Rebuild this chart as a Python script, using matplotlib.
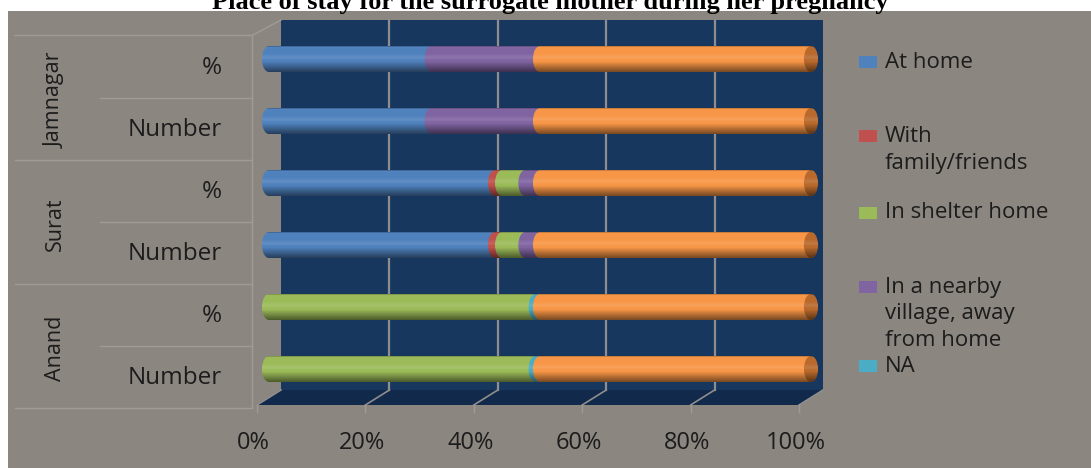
import numpy as np
import matplotlib.pyplot as plt
from matplotlib.patches import Rectangle, Polygon, Ellipse, PathPatch
from matplotlib.path import Path

# data (share of each place of stay, stacked to 100 with the total series)
groups = ["Jamnagar", "Surat", "Anand"]
measures = ["%", "Number"]
at_home = [30, 30, 41.7, 41.7, 0, 0]
family = [0, 0, 1.3, 1.3, 0, 0]
shelter = [0, 0, 4.3, 4.3, 49.2, 49.2]
nearby = [20, 20, 2.7, 2.7, 0, 0]
na = [0, 0, 0, 0, 0.8, 0.8]
total = [50, 50, 50, 50, 50, 50]
ticks = [0, 20, 40, 60, 80, 100]
tick_labels = ["0%", "20%", "40%", "60%", "80%", "100%"]

series = [("At home", at_home, "#4f81bd"),
          ("With\nfamily/friends", family, "#c0504d"),
          ("In shelter home", shelter, "#9bbb59"),
          ("In a nearby\nvillage, away\nfrom home", nearby, "#8064a2"),
          ("NA", na, "#4bacc6"),
          (None, total, "#f79646")]

# pixel helpers (figure is 1091x468 at dpi 100)
PX = 5.42
X0 = 269
Y0 = 59
ROW = 62
def X(px):
    return (px - X0) / PX
def Y(py):
    return (py - Y0) / ROW

dx = 12 / PX     # half depth of the 3d box, x
dy = 7.5 / ROW   # half depth, y
BAR_H = 0.42
CAP = 1.3        # half width of the cylinder end caps

fig = plt.figure(figsize=(10.91, 4.68), dpi=100)
fig.patch.set_facecolor("white")
ax = fig.add_axes([0, 0, 1, 1])
ax.axis("off")

BG = "#8b8680"
LINE = "#a09b96"
TXT = "#1c1c1c"
FONT = "Open Sans"

ax.add_patch(Rectangle((X(8), Y(11)), X(1091) - X(8), Y(468) - Y(11),
                       facecolor=BG, edgecolor="none", zorder=0))

# back wall + floor
wall_top, wall_bot = Y(20), Y(390)
ax.add_patch(Rectangle((0 + dx, wall_top), 100, wall_bot - wall_top,
                       facecolor="#17375f", edgecolor="none", zorder=1))
floor_front = wall_bot + 2 * dy
ax.add_patch(Polygon([(0 + dx, wall_bot), (100 + dx, wall_bot),
                      (100 - dx, floor_front), (0 - dx, floor_front)],
                     closed=True, facecolor="#11294a", edgecolor="none", zorder=1))
for v in ticks:
    if 0 < v < 100:
        ax.plot([v + dx, v + dx], [wall_top, wall_bot], color="#8e8e8e", lw=1.6, zorder=2)
    ax.plot([v + dx, v - dx], [wall_bot, floor_front], color="#8e8e8e", lw=1.2, zorder=2)
    ax.plot([v - dx, v - dx], [floor_front, floor_front + 0.12], color=LINE, lw=1, zorder=2)

for v, lab in zip(ticks, tick_labels):
    ax.text(v - dx - 0.6, Y(443), lab, ha="center", va="center",
            fontsize=17, color=TXT, family=FONT)

# category table at the left
n = len(at_home)
tx = X(252)
ax.plot([X(15), tx, 0 + dx], [-0.5 + dy, -0.5 + dy, wall_top], color=LINE, lw=1, zorder=2)
ax.plot([tx, tx], [-0.5 + dy, n - 0.5 + dy], color=LINE, lw=1, zorder=2)
for i in range(1, n + 1):
    x_start = X(15) if i % 2 == 0 else X(100)
    ax.plot([x_start, tx], [i - 0.5 + dy, i - 0.5 + dy], color=LINE, lw=1, zorder=2)

for g, name in enumerate(groups):
    ax.text(X(55), 2 * g + 0.5 + 0.16, name, rotation=90, ha="center", va="center",
            fontsize=15.5, color=TXT, family=FONT)
    for m, meas in enumerate(measures):
        ax.text(X(222), 2 * g + m + 0.15, meas, ha="right", va="center",
                fontsize=17.5, color=TXT, family=FONT)

# cylinder shading profile (top -> bottom)
prof = np.concatenate([np.linspace(0.30, 0.0, 3), np.zeros(4),
                       -np.linspace(0.0, 0.10, 4), -np.linspace(0.10, 0.0, 3),
                       np.linspace(0.0, 0.5, 10)])
shade = np.zeros((len(prof), 2, 4))
shade[:, :, :3] = np.where(prof[:, None, None] > 0, 0.0, 1.0)
shade[:, :, 3] = np.abs(prof)[:, None]

for i in range(n):
    left = 0
    for label, vals, col in series:
        w = vals[i]
        if w <= 0:
            continue
        ax.barh(i, w, left=left, height=BAR_H, color=col, edgecolor="none", zorder=3)
        ax.add_patch(Ellipse((left, i), 2 * CAP, BAR_H, facecolor=col,
                             edgecolor="none", zorder=3))
        left += w
    ax.add_patch(Ellipse((left, i), 2 * CAP, BAR_H, facecolor="#b9692c",
                         edgecolor="none", zorder=3))
    # outline of the whole cylinder used to clip the shading
    t = np.linspace(np.pi / 2, 3 * np.pi / 2, 30)
    t2 = np.linspace(-np.pi / 2, np.pi / 2, 30)
    xs = np.concatenate([0 + CAP * np.cos(t), left + CAP * np.cos(t2)])
    ys = np.concatenate([i + BAR_H / 2 * np.sin(t), i + BAR_H / 2 * np.sin(t2)])
    clip = PathPatch(Path(np.column_stack([xs, ys])), transform=ax.transData,
                     facecolor="none", edgecolor="none")
    ax.add_patch(clip)
    im = ax.imshow(shade, extent=[-CAP, left + CAP, i + BAR_H / 2, i - BAR_H / 2],
                   aspect="auto", interpolation="bilinear", zorder=4)
    im.set_clip_path(clip)

# legend
leg_y = [62, 136, 213, 287, 366]
k = 0
for label, vals, col in series:
    if label is None:
        continue
    yc = Y(leg_y[k])
    ax.add_patch(Rectangle((X(859), yc - 6 / ROW), X(877) - X(859), 12 / ROW,
                           facecolor=col, edgecolor="none", zorder=3))
    for j, line in enumerate(label.split("\n")):
        ax.text(X(885), yc + j * 27 / ROW, line, ha="left", va="center",
                fontsize=16, color=TXT, family=FONT)
    k += 1

ax.text(X(550), Y(9), "Place of stay for the surrogate mother during her pregnancy",
        ha="center", va="baseline", fontsize=19, weight="bold",
        family="Liberation Serif", color="black", zorder=0.5)

ax.set_xlim(X(0), X(1091))
ax.set_ylim(Y(468), Y(0))
fig.savefig("out.png", dpi=100, facecolor="white")
